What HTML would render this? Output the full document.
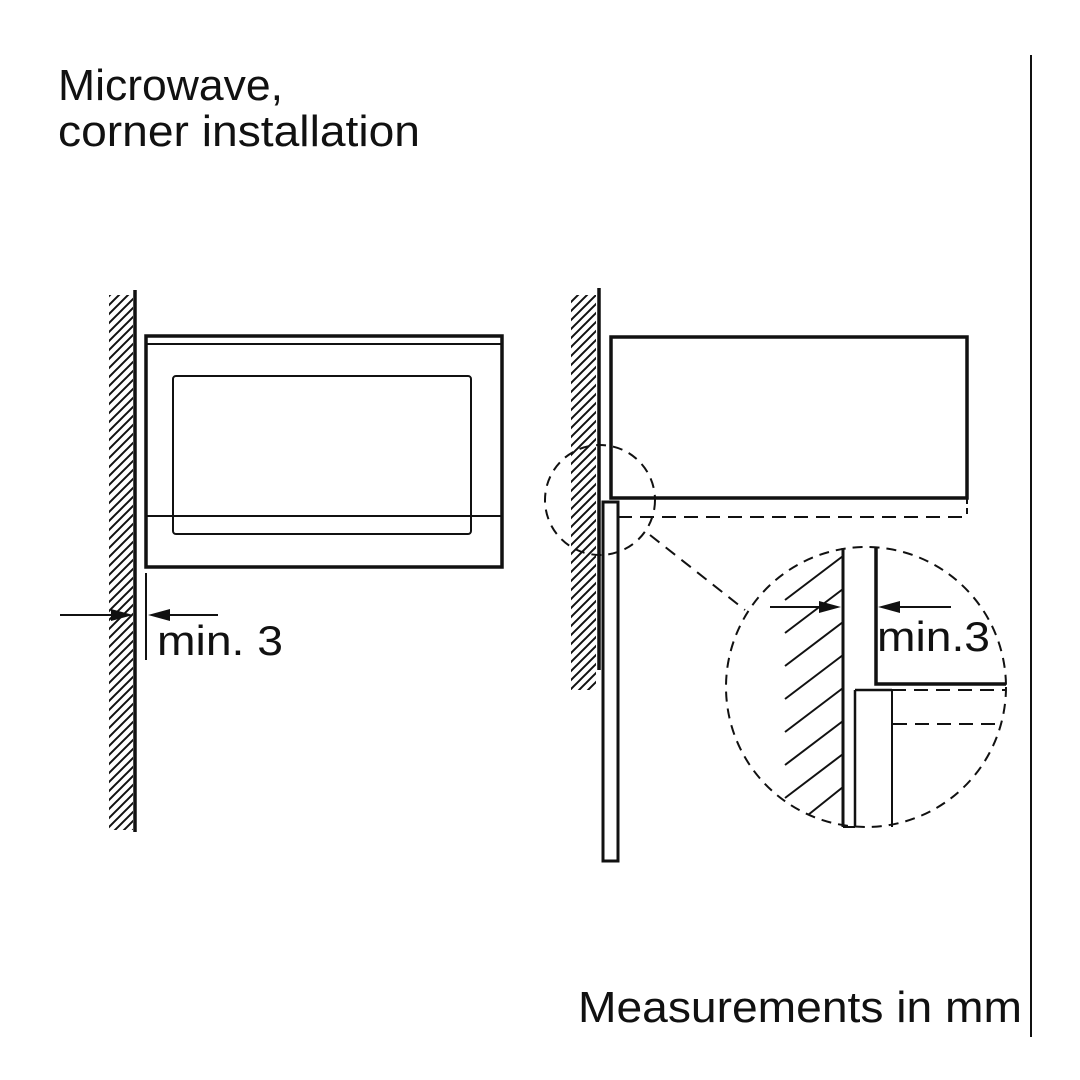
<!DOCTYPE html>
<html><head><style>
html,body{margin:0;padding:0;background:#fff;}
svg{display:block;}
text{font-family:"Liberation Sans",sans-serif;fill:#111;}
</style></head><body>
<svg width="1080" height="1080" viewBox="0 0 1080 1080" xmlns="http://www.w3.org/2000/svg">
<defs>
<pattern id="h" patternUnits="userSpaceOnUse" width="9" height="9">
<line x1="-1" y1="10" x2="10" y2="-1" stroke="#111" stroke-width="2"/>
<line x1="-2" y1="2" x2="2" y2="-2" stroke="#111" stroke-width="2"/>
<line x1="7" y1="11" x2="11" y2="7" stroke="#111" stroke-width="2"/>
</pattern>
<clipPath id="bc"><circle cx="866" cy="687" r="140"/></clipPath>
</defs>
<rect width="1080" height="1080" fill="#fff"/>
<text x="58" y="100" font-size="44" textLength="225" lengthAdjust="spacingAndGlyphs">Microwave,</text>
<text x="58" y="146" font-size="44" textLength="362" lengthAdjust="spacingAndGlyphs">corner installation</text>
<text x="578" y="1022" font-size="44" textLength="444" lengthAdjust="spacingAndGlyphs">Measurements in mm</text>
<line x1="1031" y1="55" x2="1031" y2="1037" stroke="#111" stroke-width="2"/>

<!-- Left wall -->
<rect x="109" y="295" width="24" height="535" fill="url(#h)"/>
<line x1="135" y1="290" x2="135" y2="832" stroke="#111" stroke-width="3.5"/>
<!-- Left microwave -->
<rect x="146" y="336" width="356" height="231" fill="none" stroke="#111" stroke-width="3.5"/>
<line x1="146" y1="344" x2="502" y2="344" stroke="#111" stroke-width="2"/>
<rect x="173" y="376" width="298" height="158" rx="3" fill="none" stroke="#111" stroke-width="2"/>
<line x1="146" y1="516" x2="502" y2="516" stroke="#111" stroke-width="2"/>
<!-- dims -->
<line x1="146" y1="573" x2="146" y2="660" stroke="#111" stroke-width="2"/>
<line x1="60" y1="615" x2="120" y2="615" stroke="#111" stroke-width="2"/>
<polygon points="133,615 111,609 111,621" fill="#111"/>
<line x1="160" y1="615" x2="218" y2="615" stroke="#111" stroke-width="2"/>
<polygon points="148,615 170,609 170,621" fill="#111"/>
<text x="157" y="655" font-size="42" textLength="126" lengthAdjust="spacingAndGlyphs">min. 3</text>

<!-- Right wall -->
<rect x="571" y="295" width="25" height="395" fill="url(#h)"/>
<line x1="599" y1="288" x2="599" y2="670" stroke="#111" stroke-width="3.5"/>
<rect x="603" y="502" width="15" height="359" fill="#fff" stroke="#111" stroke-width="3"/>
<rect x="611" y="337" width="356" height="161" fill="#fff" stroke="#111" stroke-width="3.5"/>
<line x1="618" y1="517" x2="967" y2="517" stroke="#111" stroke-width="2" stroke-dasharray="14,8"/>
<line x1="967" y1="498" x2="967" y2="517" stroke="#111" stroke-width="2" stroke-dasharray="6,4"/>
<circle cx="600" cy="500" r="55" fill="none" stroke="#111" stroke-width="2" stroke-dasharray="10,7"/>
<line x1="650" y1="535" x2="745" y2="610" stroke="#111" stroke-width="2" stroke-dasharray="12,8"/>

<!-- Big detail circle -->
<g clip-path="url(#bc)">
<g stroke="#111" stroke-width="2">
<line x1="785" y1="600" x2="843" y2="556"/>
<line x1="785" y1="633" x2="843" y2="589"/>
<line x1="785" y1="666" x2="843" y2="622"/>
<line x1="785" y1="699" x2="843" y2="655"/>
<line x1="785" y1="732" x2="843" y2="688"/>
<line x1="785" y1="765" x2="843" y2="721"/>
<line x1="785" y1="798" x2="843" y2="754"/>
<line x1="808" y1="815" x2="843" y2="787"/>
</g>
</g>
<circle cx="866" cy="687" r="140" fill="none" stroke="#111" stroke-width="2" stroke-dasharray="10,7"/>
<line x1="843" y1="548" x2="843" y2="827" stroke="#111" stroke-width="3"/>
<line x1="855" y1="690" x2="855" y2="827" stroke="#111" stroke-width="2.5"/>
<line x1="843" y1="827" x2="855" y2="827" stroke="#111" stroke-width="2"/>
<line x1="855" y1="690" x2="892" y2="690" stroke="#111" stroke-width="2.5"/>
<line x1="892" y1="690" x2="892" y2="827" stroke="#111" stroke-width="2"/>
<polyline points="876,548 876,684 1006,684" fill="none" stroke="#111" stroke-width="3.5"/>
<line x1="892" y1="690" x2="1006" y2="690" stroke="#111" stroke-width="2" stroke-dasharray="14,8"/>
<line x1="893" y1="724" x2="1003" y2="724" stroke="#111" stroke-width="2" stroke-dasharray="14,8"/>
<line x1="770" y1="607" x2="825" y2="607" stroke="#111" stroke-width="2"/>
<polygon points="841,607 819,601 819,613" fill="#111"/>
<line x1="895" y1="607" x2="951" y2="607" stroke="#111" stroke-width="2"/>
<polygon points="878,607 900,601 900,613" fill="#111"/>
<text x="877" y="651" font-size="42" textLength="113" lengthAdjust="spacingAndGlyphs">min.3</text>
</svg>
</body></html>
